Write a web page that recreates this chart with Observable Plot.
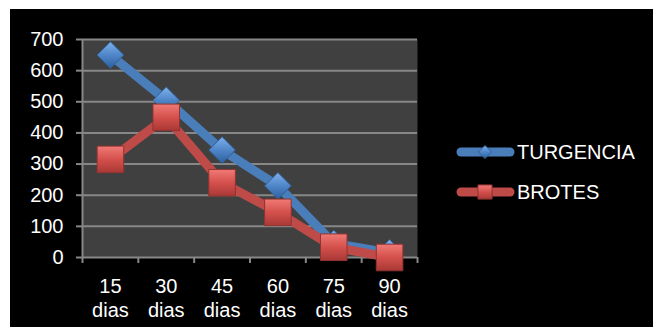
<!DOCTYPE html>
<html>
<head>
<meta charset="utf-8">
<script src="https://cdn.jsdelivr.net/npm/d3@7"></script>
<script src="https://cdn.jsdelivr.net/npm/@observablehq/plot@0.6"></script>
<style>
  html, body { margin: 0; padding: 0; background: #ffffff; }
  #wrap { position: relative; width: 654px; height: 327px; overflow: hidden; }
  #bg { position: absolute; left: 10px; top: 9px; width: 643px; height: 318px; background: #000; }
  #chart { position: absolute; left: 0; top: 0; }
</style>
</head>
<body>
<div id="wrap"><div id="bg"></div><div id="chart"></div></div>
<script>
const categories = ["15 dias", "30 dias", "45 dias", "60 dias", "75 dias", "90 dias"];
const turgencia = [650, 505, 345, 230, 45, 15];
const brotes = [315, 450, 240, 145, 33, 0];
const yTicks = [0, 100, 200, 300, 400, 500, 600, 700];
const seriesNames = ["TURGENCIA", "BROTES"];

const rowsT = categories.map((c, i) => ({cat: c, i, value: turgencia[i]}));
const rowsB = categories.map((c, i) => ({cat: c, i, value: brotes[i]}));

const grid = "#878787";
const font = "'Liberation Sans', Arial, sans-serif";

const plot = Plot.plot({
  width: 654,
  height: 327,
  marginLeft: 82,
  marginRight: 237,
  marginTop: 39,
  marginBottom: 70,
  style: {background: "transparent", color: "white", fontFamily: font, fontSize: "20px", overflow: "visible"},
  x: {domain: [0, categories.length]},
  y: {domain: [0, 700]},
  marks: [
    Plot.frame({fill: "#404040", stroke: null}),
    Plot.ruleY(yTicks, {stroke: grid, strokeWidth: 2}),
    Plot.ruleX([0], {stroke: grid, strokeWidth: 2}),
    Plot.axisY({ticks: yTicks, tickSize: 6, tickPadding: 13, stroke: grid, strokeWidth: 2, fill: "white", fontSize: 20, tickFormat: d => String(d), label: null}),
    Plot.axisX({ticks: d3.range(categories.length + 1), tickSize: 6, stroke: grid, strokeWidth: 2, tickFormat: () => "", label: null}),
    Plot.text(categories, {x: (d, i) => i + 0.5, frameAnchor: "bottom", lineAnchor: "top", dy: 18, lineHeight: 1.2, fontSize: 20, text: d => d.replace(" ", "\n"), fill: "white"}),
    Plot.line(rowsT, {x: d => d.i + 0.5, y: "value", stroke: "#4a7ebb", strokeWidth: 9, strokeLinejoin: "round"}),
    Plot.dot(rowsT, {x: d => d.i + 0.5, y: "value", symbol: "diamond2", r: 12, fill: "url(#gBlue)", stroke: "#2f5f96", strokeWidth: 1}),
    Plot.line(rowsB, {x: d => d.i + 0.5, y: "value", stroke: "#be4b48", strokeWidth: 9, strokeLinejoin: "round"}),
    Plot.dot(rowsB, {x: d => d.i + 0.5, y: "value", symbol: "square", r: 15, fill: "url(#gRed)", stroke: "#8f3331", strokeWidth: 1})
  ]
});

const svg = d3.select(plot);
const defs = svg.insert("defs", ":first-child");
const gb = defs.append("linearGradient").attr("id", "gBlue").attr("x1", 0).attr("y1", 0).attr("x2", 0).attr("y2", 1);
gb.append("stop").attr("offset", "0%").attr("stop-color", "#7fb0ec");
gb.append("stop").attr("offset", "50%").attr("stop-color", "#4f86c8");
gb.append("stop").attr("offset", "100%").attr("stop-color", "#2c5f9e");
const gr = defs.append("linearGradient").attr("id", "gRed").attr("x1", 0).attr("y1", 0).attr("x2", 0).attr("y2", 1);
gr.append("stop").attr("offset", "0%").attr("stop-color", "#f07a76");
gr.append("stop").attr("offset", "50%").attr("stop-color", "#d4504c");
gr.append("stop").attr("offset", "100%").attr("stop-color", "#a93835");

// Legend
const legend = svg.append("g").attr("font-family", font).attr("font-size", 20).attr("text-anchor", "start");
const items = [
  {name: seriesNames[0], color: "#4a7ebb", y: 152, type: "diamond"},
  {name: seriesNames[1], color: "#be4b48", y: 192, type: "square"}
];
items.forEach(it => {
  legend.append("line").attr("x1", 461).attr("x2", 510).attr("y1", it.y).attr("y2", it.y)
    .attr("stroke", it.color).attr("stroke-width", 9).attr("stroke-linecap", "round");
  if (it.type === "diamond") {
    legend.append("path").attr("d", d3.symbol(d3.symbolDiamond2, 110)()).attr("transform", `translate(485,${it.y})`)
      .attr("fill", "url(#gBlue)").attr("stroke", "#2f5f96");
  } else {
    legend.append("path").attr("d", d3.symbol(d3.symbolSquare, 200)()).attr("transform", `translate(485,${it.y})`)
      .attr("fill", "url(#gRed)").attr("stroke", "#8f3331");
  }
  legend.append("text").attr("x", 517).attr("y", it.y).attr("dy", "0.36em").attr("fill", "white").attr("text-anchor", "start").text(it.name);
});

document.getElementById("chart").appendChild(plot);
</script>
</body>
</html>
